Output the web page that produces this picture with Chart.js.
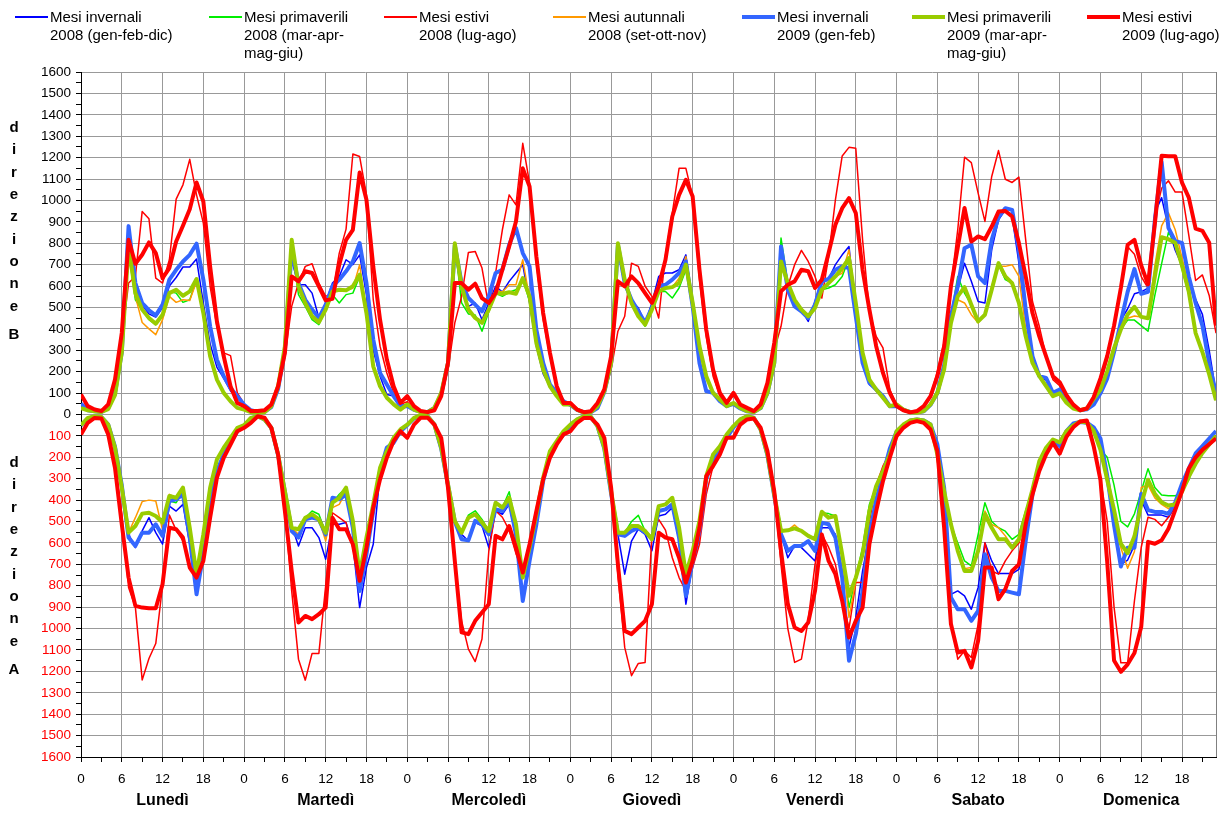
<!DOCTYPE html>
<html>
<head>
<meta charset="utf-8">
<script src="https://cdn.jsdelivr.net/npm/chart.js@4.4.1/dist/chart.umd.min.js"></script>
<style>
  html, body { margin: 0; padding: 0; background: #fff; }
  canvas { display: block; }
</style>
</head>
<body>
<canvas id="grafico" width="1232" height="814"></canvas>
<script>
// giorni della settimana e etichette delle ore
const days = ["Lunedì", "Martedì", "Mercoledì", "Giovedì", "Venerdì", "Sabato", "Domenica"];
const hourLabels = ["0", "6", "12", "18"];

// direzione B (valori positivi), una riga per giorno, 24 ore
const inv08B = [
  45,22,15,12,30,100, 280,800,600,510,470,455, 500,600,640,689,689,726, 520,330,220,170,110,80,
  45,20,12,12,35,115, 290,720,606,606,567,451, 521,614,645,723,700,746, 560,300,179,93,86,47,
  40,22,12,12,30,95, 240,790,590,505,521,443, 521,599,572,622,661,700, 520,319,190,130,90,50,
  45,22,10,10,30,105, 240,780,600,530,498,428, 521,645,661,661,676,746, 521,250,115,105,62,39,
  50,28,15,12,30,100, 240,740,614,528,490,435, 528,630,633,700,746,785, 490,260,140,117,86,39,
  40,22,12,10,15,45, 100,230,440,583,707,622, 528,521,770,909,956,925, 707,460,260,179,160,95,
  110,65,35,20,24,46, 95,165,290,440,494,564, 573,590,942,1013,872,767, 696,608,538,468,300,100
];
const prim08B = [
  30,20,15,12,25,90, 290,760,536,490,443,420, 466,575,567,524,536,630, 474,272,163,101,62,31,
  23,11,8,11,39,132, 319,800,560,505,443,420, 490,560,521,560,567,645, 474,225,132,78,47,23,
  47,23,11,11,31,101, 241,800,521,470,465,389, 480,567,552,571,583,630, 530,334,210,132,86,47,
  47,23,8,11,39,109, 241,800,630,521,459,412, 500,575,575,544,591,676, 530,319,179,101,70,39,
  54,31,16,11,31,101, 241,824,614,536,490,459, 498,583,591,606,645,731, 521,288,163,117,78,39,
  47,23,11,8,16,47, 101,210,460,645,567,513, 440,466,583,700,630,614, 521,365,241,179,132,86,
  99,55,28,20,28,72, 116,204,310,397,441,441, 415,389,556,705,851,802, 680,560,380,292,187,67
];
const est08B = [
  85,38,20,18,40,150, 350,614,645,948,914,637, 614,723,1006,1073,1192,1026, 894,599,412,288,275,101,
  50,20,15,15,40,120, 272,505,614,692,704,614, 552,567,754,866,1217,1205, 1026,536,319,194,101,47,
  60,25,15,15,30,90, 210,428,552,757,762,684, 505,661,863,1026,979,1267, 1081,707,443,272,132,62,
  47,20,10,12,40,100, 210,389,459,707,692,599, 552,451,746,941,1150,1150, 1018,630,365,179,86,47,
  90,45,25,15,40,120, 300,412,599,700,767,715, 645,544,738,1003,1208,1248, 1244,816,482,365,311,117,
  45,20,12,15,40,90, 200,340,600,863,1202,1177, 1034,902,1112,1233,1099,1084, 1109,816,528,412,272,163,
  134,80,40,25,30,70, 150,257,415,591,784,749, 644,590,925,1057,1092,1039, 1039,837,626,652,556,380
];
const aut08B = [
  30,20,15,12,25,90, 290,780,552,430,400,373, 443,552,524,536,533,622, 474,272,163,101,62,31,
  23,11,8,11,39,132, 319,800,599,520,459,431, 490,575,583,580,590,700, 474,225,132,78,47,23,
  47,23,11,11,31,101, 241,800,599,490,451,428, 490,580,572,606,606,723, 540,334,210,132,86,47,
  47,23,8,11,39,109, 241,800,630,521,459,420, 490,575,591,595,637,738, 521,319,179,101,70,39,
  54,31,16,11,31,101, 241,715,614,536,490,459, 498,583,614,645,660,770, 521,288,163,117,78,39,
  47,23,11,8,16,47, 101,210,428,536,521,466, 428,466,599,692,692,700, 645,400,241,179,132,86,
  99,55,28,20,28,72, 116,204,310,397,450,460, 456,450,696,881,942,863, 731,600,390,292,187,67
];
const inv09B = [
  50,20,15,12,30,100, 290,880,614,520,487,463, 513,630,676,715,746,798, 630,412,256,179,124,85,
  45,20,12,12,35,120, 300,770,614,536,490,451, 513,599,630,669,715,801, 614,350,194,140,86,39,
  40,22,12,12,30,95, 240,790,614,544,513,482, 552,661,676,793,871,754, 692,396,241,140,101,62,
  45,22,10,10,30,105, 240,793,614,536,482,428, 498,599,606,630,661,715, 505,241,109,101,62,39,
  50,28,15,12,30,100, 240,785,583,505,482,451, 513,622,633,676,692,684, 459,241,148,117,86,39,
  40,22,12,10,15,45, 100,230,459,599,777,793, 645,614,816,922,964,956, 770,490,272,179,171,101,
  116,70,35,20,24,46, 99,169,292,433,573,679, 564,573,907,1180,872,810, 802,644,521,415,239,99
];
const prim09B = [
  30,20,15,12,25,90, 290,785,567,490,451,424, 466,567,583,555,575,633, 474,272,163,101,62,31,
  23,11,8,11,39,132, 319,816,599,520,459,431, 490,575,583,580,599,653, 474,225,132,78,47,23,
  47,23,11,11,31,101, 241,800,599,490,451,428, 490,567,564,571,564,637, 552,334,210,132,86,47,
  47,23,8,11,39,109, 241,800,630,521,459,420, 490,575,591,595,614,700, 521,319,179,101,70,39,
  54,31,16,11,31,101, 241,715,614,536,490,459, 498,583,614,645,684,731, 521,288,163,117,78,39,
  47,23,11,8,16,47, 101,210,428,552,595,513, 435,466,583,707,645,614, 521,365,241,179,132,86,
  99,55,28,20,28,72, 116,204,310,397,468,503, 456,450,644,828,819,802, 696,573,380,292,187,67
];
const est09B = [
  93,39,23,16,47,163, 381,816,704,746,804,754, 637,684,808,882,959,1084, 995,692,435,272,132,54,
  39,16,16,20,47,132, 288,645,622,669,661,599, 533,540,700,816,863,1130, 1003,692,443,257,132,54,
  86,39,16,11,20,86, 241,614,614,583,611,544, 521,567,676,785,902,1150, 1065,738,474,288,132,54,
  54,23,11,15,54,117, 272,622,599,645,614,567, 521,599,723,925,1026,1096, 1018,676,396,210,101,54,
  101,47,31,16,47,148, 334,575,606,622,676,669, 591,630,754,886,964,1011, 941,676,490,319,194,101,
  39,20,10,16,39,86, 179,319,599,780,965,808, 832,819,878,948,951,925, 801,645,474,365,272,179,
  151,90,46,20,28,81, 169,274,415,591,793,816, 696,608,890,1209,1206,1206, 1083,1013,868,858,802,415
];

// direzione A (valori negativi)
const inv08A = [
  -45,-18,-10,-12,-45,-150, -330,-560,-622,-544,-482,-552, -606,-428,-451,-420,-606,-793, -640,-404,-264,-187,-132,-78,
  -50,-18,-8,-23,-62,-190, -360,-520,-614,-529,-529,-575, -676,-513,-513,-505,-606,-902, -715,-606,-280,-155,-132,-78,
  -50,-18,-5,-8,-47,-160, -330,-500,-560,-591,-505,-520, -622,-450,-466,-420,-575,-855, -670,-500,-311,-187,-132,-93,
  -50,-25,-8,-10,-54,-160, -370,-560,-746,-591,-536,-560, -637,-474,-466,-435,-590,-886, -700,-575,-310,-210,-160,-110,
  -60,-25,-10,-15,-70,-190, -380,-560,-669,-614,-622,-653, -684,-529,-529,-560,-731,-1088, -948,-731,-560,-400,-260,-160,
  -80,-60,-28,-23,-28,-47, -140,-342,-840,-824,-847,-910, -808,-599,-684,-743,-743,-743, -723,-560,-373,-233,-163,-124,
  -148,-77,-42,-35,-38,-60, -112,-288,-500,-700,-680,-610, -400,-470,-470,-470,-480,-430, -330,-250,-180,-150,-110,-80
];
const prim08A = [
  -50,-16,-8,-12,-47,-155, -342,-545,-521,-463,-459,-474, -490,-404,-412,-360,-529,-746, -560,-342,-210,-155,-109,-62,
  -50,-16,-8,-23,-62,-187, -358,-529,-536,-482,-451,-466, -552,-412,-373,-342,-497,-746, -575,-420,-249,-171,-109,-70,
  -47,-16,-3,-8,-47,-155, -326,-497,-552,-470,-450,-490, -544,-412,-435,-361,-513,-762, -622,-466,-295,-171,-124,-78,
  -47,-23,-8,-10,-54,-155, -358,-552,-552,-500,-471,-544, -583,-428,-420,-389,-529,-746, -637,-497,-288,-187,-148,-93,
  -54,-23,-8,-16,-70,-187, -373,-544,-541,-532,-544,-567, -583,-460,-463,-474,-653,-902, -762,-620,-420,-334,-264,-187,
  -78,-47,-28,-23,-28,-47, -187,-358,-513,-600,-684,-707, -560,-412,-500,-529,-545,-583, -560,-450,-350,-218,-155,-117,
  -130,-77,-51,-33,-38,-77, -165,-200,-330,-500,-525,-464, -358,-253,-341,-376,-380,-380, -360,-305,-217,-165,-112,-100
];
const est08A = [
  -85,-35,-15,-18,-80,-230, -466,-808,-900,-1240,-1140,-1070, -800,-470,-540,-590,-700,-740, -660,-470,-300,-200,-140,-80,
  -60,-35,-8,-15,-60,-180, -440,-824,-1143,-1241,-1116,-1116, -800,-459,-482,-505,-622,-762, -637,-450,-300,-200,-130,-80,
  -100,-45,-15,-15,-47,-109, -342,-700,-964,-1096,-1154,-1049, -640,-450,-480,-540,-650,-730, -610,-450,-300,-200,-140,-90,
  -78,-39,-16,-16,-47,-109, -342,-750,-1088,-1220,-1163,-1158, -560,-490,-540,-669,-762,-824, -715,-606,-373,-241,-187,-109,
  -109,-47,-23,-19,-62,-171, -358,-700,-1000,-1158,-1143,-960, -700,-560,-620,-700,-860,-1000, -785,-785,-500,-330,-240,-180,
  -95,-62,-39,-31,-39,-70, -150,-450,-964,-1143,-1104,-1135, -980,-599,-731,-746,-684,-637, -600,-480,-370,-260,-190,-130,
  -170,-100,-60,-33,-28,-140, -300,-500,-900,-1160,-1160,-870, -620,-480,-490,-520,-480,-420, -350,-270,-210,-170,-130,-100
];
const aut08A = [
  -50,-16,-8,-12,-47,-155, -342,-552,-482,-407,-400,-404, -540,-373,-389,-380,-529,-746, -560,-342,-210,-155,-109,-62,
  -50,-16,-8,-23,-62,-187, -358,-529,-560,-482,-466,-490, -591,-435,-420,-360,-497,-746, -575,-420,-249,-171,-109,-70,
  -47,-16,-3,-8,-47,-155, -326,-497,-560,-482,-470,-505, -544,-412,-435,-389,-513,-762, -622,-466,-295,-171,-124,-78,
  -47,-23,-8,-10,-54,-155, -358,-552,-560,-521,-521,-544, -590,-428,-420,-389,-529,-760, -637,-497,-288,-187,-148,-93,
  -54,-23,-8,-16,-70,-187, -373,-544,-541,-516,-544,-567, -583,-454,-482,-474,-653,-948, -777,-653,-451,-334,-264,-187,
  -78,-47,-28,-23,-28,-47, -187,-358,-513,-637,-720,-715, -637,-451,-513,-529,-567,-614, -590,-466,-350,-218,-155,-117,
  -130,-77,-51,-33,-38,-77, -165,-306,-446,-622,-718,-640, -341,-330,-390,-420,-440,-420, -360,-290,-230,-180,-140,-100
];
const inv09A = [
  -50,-20,-10,-12,-47,-150, -330,-575,-614,-552,-552,-513, -567,-404,-396,-373,-575,-840, -653,-404,-264,-187,-132,-78,
  -55,-18,-8,-23,-62,-190, -360,-544,-575,-490,-482,-490, -560,-389,-396,-373,-529,-824, -653,-451,-264,-155,-132,-78,
  -50,-18,-5,-8,-47,-160, -330,-500,-583,-588,-497,-513, -560,-443,-451,-404,-560,-871, -684,-513,-311,-187,-132,-93,
  -50,-25,-8,-10,-54,-160, -370,-560,-567,-544,-530,-550, -580,-451,-443,-420,-575,-847, -684,-544,-300,-210,-160,-110,
  -60,-25,-10,-15,-70,-190, -380,-560,-637,-614,-614,-591, -637,-505,-513,-575,-762,-1150, -1026,-824,-560,-400,-280,-160,
  -80,-60,-28,-23,-28,-47, -140,-342,-855,-910,-910,-964, -917,-653,-762,-824,-824,-832, -840,-591,-373,-233,-163,-124,
  -148,-77,-42,-35,-38,-60, -112,-288,-517,-710,-622,-622, -370,-446,-455,-455,-464,-411, -323,-252,-182,-148,-112,-77
];
const prim09A = [
  -50,-16,-8,-12,-47,-155, -342,-552,-521,-463,-459,-474, -505,-381,-389,-342,-529,-746, -560,-342,-210,-155,-109,-62,
  -50,-16,-8,-23,-62,-187, -358,-529,-536,-482,-466,-490, -552,-412,-389,-342,-497,-746, -575,-420,-249,-171,-109,-70,
  -47,-16,-3,-8,-47,-155, -326,-497,-552,-482,-466,-505, -544,-412,-435,-389,-513,-762, -622,-466,-295,-171,-124,-78,
  -47,-23,-8,-10,-54,-155, -358,-552,-552,-521,-521,-544, -583,-428,-420,-389,-529,-746, -637,-497,-288,-187,-148,-93,
  -54,-23,-8,-16,-70,-187, -373,-544,-541,-532,-544,-567, -583,-454,-482,-474,-653,-847, -762,-653,-451,-334,-264,-187,
  -78,-47,-28,-23,-28,-47, -187,-358,-513,-637,-731,-731, -637,-466,-529,-583,-583,-622, -583,-466,-350,-218,-155,-117,
  -130,-77,-51,-33,-38,-77, -165,-306,-446,-604,-648,-569, -420,-305,-370,-410,-425,-420, -360,-290,-230,-180,-140,-100
];
const est09A = [
  -93,-39,-16,-19,-93,-249, -513,-762,-894,-902,-905,-905, -793,-529,-536,-575,-715,-762, -684,-482,-295,-202,-140,-78,
  -62,-39,-8,-15,-62,-187, -451,-731,-972,-941,-956,-933, -902,-482,-536,-536,-606,-777, -622,-435,-303,-202,-124,-78,
  -109,-47,-15,-15,-47,-109, -342,-684,-1018,-1026,-964,-925, -886,-567,-583,-521,-622,-738, -606,-451,-303,-202,-140,-93,
  -78,-39,-16,-16,-47,-109, -342,-700,-1011,-1026,-995,-964, -886,-552,-575,-583,-669,-785, -684,-529,-288,-241,-187,-109,
  -109,-47,-23,-19,-62,-171, -358,-637,-886,-995,-1011,-972, -824,-560,-684,-746,-871,-1042, -964,-902,-606,-451,-311,-202,
  -101,-62,-39,-31,-39,-70, -171,-529,-979,-1112,-1104,-1182, -1057,-715,-715,-863,-816,-731, -700,-513,-373,-264,-187,-132,
  -183,-104,-60,-33,-28,-148, -306,-692,-1149,-1202,-1167,-1114, -991,-595,-604,-587,-534,-446, -358,-252,-200,-165,-139,-112
];

// serie (ordine della legenda)
const series = [
  { label: "Mesi invernali\n2008 (gen-feb-dic)", b: inv08B, a: inv08A, color: "#0000ff", width: 1.5, order: 6 },
  { label: "Mesi primaverili\n2008 (mar-apr-\nmag-giu)", b: prim08B, a: prim08A, color: "#00ee00", width: 1.5, order: 5 },
  { label: "Mesi estivi\n2008 (lug-ago)", b: est08B, a: est08A, color: "#ff0000", width: 1.5, order: 4 },
  { label: "Mesi autunnali\n2008 (set-ott-nov)", b: aut08B, a: aut08A, color: "#ff9900", width: 1.5, order: 3 },
  { label: "Mesi invernali\n2009 (gen-feb)", b: inv09B, a: inv09A, color: "#3366ff", width: 4, order: 2 },
  { label: "Mesi primaverili\n2009 (mar-apr-\nmag-giu)", b: prim09B, a: prim09A, color: "#99cc00", width: 4, order: 1 },
  { label: "Mesi estivi\n2009 (lug-ago)", b: est09B, a: est09A, color: "#ff0000", width: 4, order: 0 }
];

const hours = inv08B.map((v, i) => i);
const legendX = [15, 209, 384, 553, 742, 912, 1087];
const FONT = '"Liberation Sans", Arial, sans-serif';

Chart.defaults.font.family = FONT;

const datasets = [];
series.forEach(s => {
  [s.b, s.a].forEach(vals => {
    datasets.push({
      label: s.label,
      data: vals,
      borderColor: s.color,
      backgroundColor: s.color,
      borderWidth: s.width,
      pointRadius: 0,
      tension: 0,
      fill: false,
      order: s.order,
      borderJoinStyle: "round"
    });
  });
});

// legenda, scritte verticali e nomi dei giorni
const decorazioni = {
  id: "decorazioni",
  beforeDatasetsDraw(chart) {
    const { ctx, chartArea: a } = chart;
    ctx.save();
    ctx.strokeStyle = "#808080";
    ctx.lineWidth = 1;
    ctx.beginPath();
    ctx.moveTo(Math.round(a.right) + 0.5, a.top);
    ctx.lineTo(Math.round(a.right) + 0.5, a.bottom);
    ctx.stroke();
    ctx.restore();
  },
  afterDraw(chart) {
    const ctx = chart.ctx;
    const x = chart.scales.x;
    ctx.save();

    // legenda
    ctx.font = "15px " + FONT;
    ctx.textBaseline = "middle";
    ctx.textAlign = "left";
    series.forEach((s, i) => {
      const lx = legendX[i];
      ctx.strokeStyle = s.color;
      ctx.lineWidth = s.width > 2 ? 4 : 2;
      ctx.beginPath();
      ctx.moveTo(lx, 17);
      ctx.lineTo(lx + 33, 17);
      ctx.stroke();
      ctx.fillStyle = "#000";
      s.label.split("\n").forEach((t, j) => ctx.fillText(t, lx + 35, 18 + j * 18));
    });

    // "direzione B" / "direzione A"
    ctx.font = "bold 15px " + FONT;
    ctx.textAlign = "center";
    const word = "direzione";
    [["B", 128], ["A", 463]].forEach(([dir, y0]) => {
      for (let i = 0; i < word.length; i++) ctx.fillText(word[i], 14, y0 + i * 22.3);
      ctx.fillText(dir, 14, y0 + 9 * 22.3 + 6);
    });

    // giorni
    ctx.font = "bold 16px " + FONT;
    days.forEach((d, i) => ctx.fillText(d, x.getPixelForValue(i * 24 + 12), 801));
    ctx.restore();
  }
};

new Chart(document.getElementById("grafico").getContext("2d"), {
  type: "line",
  data: { labels: hours, datasets: datasets },
  options: {
    responsive: false,
    animation: false,
    layout: { padding: { top: 72, right: 16, left: 0, bottom: 0 } },
    plugins: { legend: { display: false }, tooltip: { enabled: false } },
    scales: {
      x: {
        type: "linear",
        min: 0,
        max: 167,
        afterFit: s => { s.height = 57; },
        border: { display: true, color: "#000", width: 1 },
        grid: {
          color: c => (c.tick && c.tick.value % 6 === 0) ? "#999999" : "rgba(0,0,0,0)",
          tickColor: "#000",
          tickLength: 5,
          drawTicks: true
        },
        ticks: {
          stepSize: 3,
          includeBounds: false,
          autoSkip: false,
          maxRotation: 0,
          minRotation: 0,
          padding: 9,
          color: "#000",
          font: { size: 13.5 },
          callback: v => v % 6 === 0 ? hourLabels[(v % 24) / 6] : ""
        }
      },
      y: {
        min: -1600,
        max: 1600,
        afterFit: s => { s.width = 81; },
        border: { display: true, color: "#000", width: 1 },
        grid: {
          color: c => (c.tick && c.tick.value % 100 === 0) ? "#999999" : "rgba(0,0,0,0)",
          tickColor: "#000",
          tickLength: 5
        },
        ticks: {
          stepSize: 50,
          autoSkip: false,
          padding: 5,
          font: { size: 13.5 },
          color: c => c.tick && c.tick.value < 0 ? "#ff0000" : "#000000",
          callback: v => v % 100 === 0 ? String(Math.abs(v)) : ""
        }
      }
    }
  },
  plugins: [decorazioni]
});
</script>
</body>
</html>
